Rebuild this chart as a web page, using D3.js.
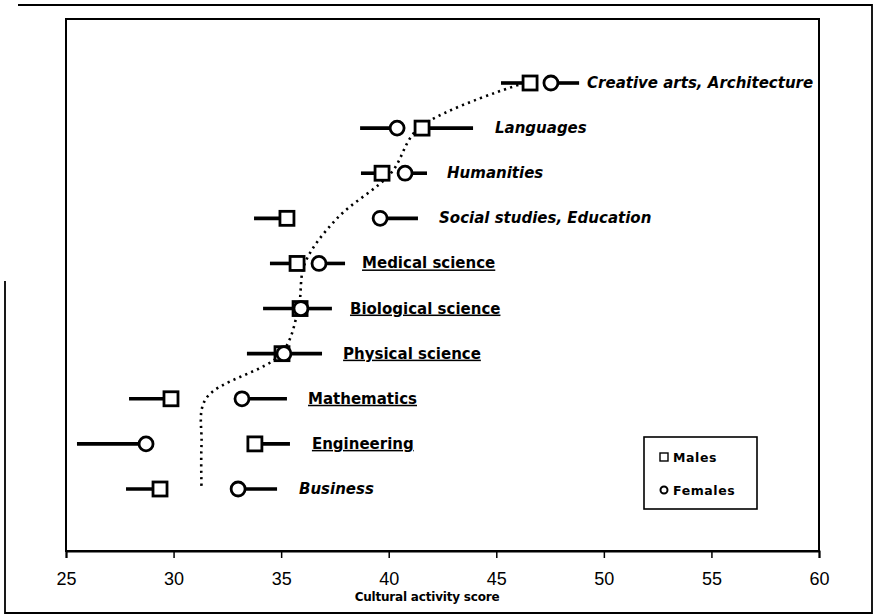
<!DOCTYPE html>
<html>
<head>
<meta charset="utf-8">
<script src="https://cdn.jsdelivr.net/npm/d3@7"></script>
<style>
  html, body { margin: 0; padding: 0; background: #fff; }
  svg { display: block; }
</style>
</head>
<body>
<svg id="chart" width="876" height="615"></svg>
<script>
// ---- data ----
const categories = ["Creative arts, Architecture", "Languages", "Humanities", "Social studies, Education",
  "Medical science", "Biological science", "Physical science", "Mathematics", "Engineering", "Business"];
const underlined = [false, false, false, false, true, true, true, true, true, false];
const maleScore   = [46.57, 41.55, 39.69, 35.27, 35.74, 35.88, 35.04, 29.88, 33.78, 29.37];
const maleCIEnd   = [45.22, 43.92, 38.71, 33.74, 34.48, 34.16, 33.41, 27.93, 35.41, 27.79];
const femaleScore = [47.54, 40.39, 40.76, 39.60, 36.76, 35.92, 35.13, 33.18, 28.72, 33.00];
const femaleCIEnd = [48.85, 38.67, 41.78, 41.36, 37.97, 37.36, 36.90, 35.27, 25.51, 34.81];
const trendScore  = [46.3, 41.4, 40.1, 37.6, 36.1, 35.8, 35.0, 31.5, 31.3, 31.3];
const labelScore  = [49.22, 44.94, 42.71, 42.34, 38.76, 38.20, 37.88, 36.25, 36.43, 35.83];
const xTicks = [25, 30, 35, 40, 45, 50, 55, 60];
const xTitle = "Cultural activity score";
const legendLabels = ["Males", "Females"];

// ---- drawing ----
const svg = d3.select("#chart");
const x = d3.scaleLinear().domain([25, 60]).range([66, 819]);
const y = d3.scalePoint().domain(categories).range([83, 489]);

// outer frame
const frame = svg.append("g").attr("stroke", "#000").attr("stroke-width", 1.8).attr("fill", "none");
frame.append("path").attr("d", "M18,5 H872 V613 H5 V281");

// plot frame
svg.append("rect").attr("x", 66).attr("y", 19).attr("width", 819 - 66).attr("height", 551 - 19)
  .attr("fill", "none").attr("stroke", "#000").attr("stroke-width", 2);

// x axis
const axis = svg.append("g").attr("transform", "translate(0,551)")
  .call(d3.axisBottom(x).tickValues(xTicks).tickSize(7).tickPadding(14).tickFormat(d3.format("d")));
axis.select(".domain").attr("stroke-width", 2);
axis.selectAll(".tick line").attr("stroke-width", 1.5);
axis.selectAll(".tick text").attr("font-family", "'Liberation Sans', Arial, sans-serif")
  .attr("font-size", 18).attr("fill", "#000");

svg.append("text").attr("x", 427).attr("y", 601).attr("text-anchor", "middle")
  .attr("font-family", "'DejaVu Sans', sans-serif").attr("font-weight", "bold").attr("font-size", 12)
  .attr("letter-spacing", -0.2)
  .text(xTitle);

// trend dotted curve
const trendLine = d3.line().x(d => x(d.v)).y(d => y(d.c)).curve(d3.curveCatmullRom.alpha(0.5));
svg.append("path")
  .datum(categories.map((c, i) => ({ c, v: trendScore[i] })))
  .attr("d", trendLine)
  .attr("fill", "none").attr("stroke", "#000").attr("stroke-width", 2.6)
  .attr("stroke-dasharray", "2.2,4.2");

// CI bars
const rows = categories.map((c, i) => ({
  c, u: underlined[i], m: maleScore[i], mE: maleCIEnd[i], f: femaleScore[i], fE: femaleCIEnd[i], l: labelScore[i]
}));
const bars = svg.append("g").attr("stroke", "#000").attr("stroke-width", 3.6);
bars.selectAll("line.m").data(rows).join("line").attr("class", "m")
  .attr("x1", d => x(d.m)).attr("x2", d => x(d.mE)).attr("y1", d => y(d.c)).attr("y2", d => y(d.c));
bars.selectAll("line.f").data(rows).join("line").attr("class", "f")
  .attr("x1", d => x(d.f)).attr("x2", d => x(d.fE)).attr("y1", d => y(d.c)).attr("y2", d => y(d.c));

// markers
const sq = 14;
svg.append("g").selectAll("rect").data(rows).join("rect")
  .attr("x", d => x(d.m) - sq / 2).attr("y", d => y(d.c) - sq / 2)
  .attr("width", sq).attr("height", sq)
  .attr("fill", "#fff").attr("stroke", "#000").attr("stroke-width", 2.8);
svg.append("g").selectAll("circle").data(rows).join("circle")
  .attr("cx", d => x(d.f)).attr("cy", d => y(d.c)).attr("r", 7)
  .attr("fill", "#fff").attr("stroke", "#000").attr("stroke-width", 2.8);

// category labels
svg.append("g").selectAll("text").data(rows).join("text")
  .attr("x", d => x(d.l)).attr("y", d => y(d.c) + 5)
  .attr("font-family", "'DejaVu Sans', sans-serif").attr("font-weight", "bold")
  .attr("font-style", d => d.u ? "normal" : "italic")
  .attr("text-decoration", d => d.u ? "underline" : "none")
  .attr("font-size", 15).attr("fill", "#000")
  .text(d => d.c);

// legend
const lg = svg.append("g");
lg.append("rect").attr("x", 644).attr("y", 437).attr("width", 113).attr("height", 72)
  .attr("fill", "#fff").attr("stroke", "#000").attr("stroke-width", 1.6);
lg.append("rect").attr("x", 660).attr("y", 453).attr("width", 8).attr("height", 8)
  .attr("fill", "#fff").attr("stroke", "#000").attr("stroke-width", 1.4);
lg.append("circle").attr("cx", 664).attr("cy", 490).attr("r", 3.5)
  .attr("fill", "#fff").attr("stroke", "#000").attr("stroke-width", 2);
lg.selectAll("text").data(legendLabels).join("text")
  .attr("x", 673).attr("y", (d, i) => 462 + i * 33)
  .attr("font-family", "'DejaVu Sans', sans-serif").attr("font-weight", "bold").attr("font-size", 12.5)
  .attr("letter-spacing", 0.6)
  .text(d => d);
</script>
</body>
</html>
